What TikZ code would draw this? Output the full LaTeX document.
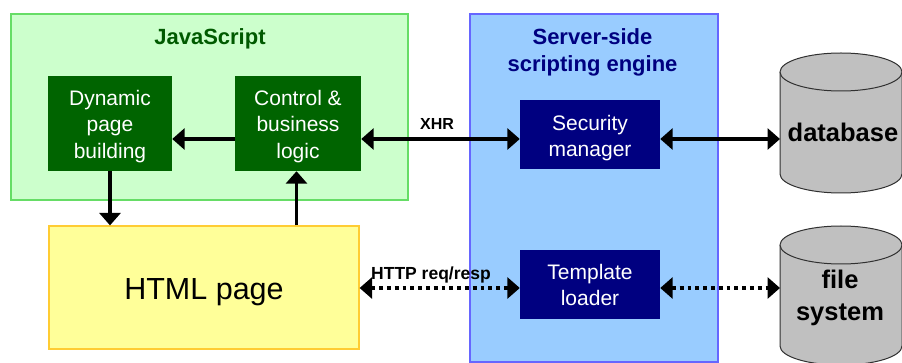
\documentclass[tikz,border=0pt]{standalone}
\usepackage{fontspec}
\setmainfont{Liberation Sans}
\usetikzlibrary{arrows.meta}
\definecolor{jsfill}{HTML}{CCFFCC}
\definecolor{jsline}{HTML}{66DD66}
\definecolor{dkgreen}{HTML}{006400}
\definecolor{htmlfill}{HTML}{FFFF99}
\definecolor{htmlline}{HTML}{FFCC33}
\definecolor{srvfill}{HTML}{99CCFF}
\definecolor{srvline}{HTML}{6666FF}
\definecolor{navyb}{HTML}{000080}
\definecolor{cylfill}{HTML}{C0C0C0}
\definecolor{cylline}{HTML}{303030}
\newcommand{\lowfirst}[1][20.5pt]{\rule{0pt}{#1}}
\tikzset{
  x=1pt,y=-1pt,
  panel/.style={rectangle,inner sep=0pt,line width=1.2pt},
  jsbox/.style={rectangle,inner sep=0pt,fill=dkgreen,text=white,align=center,
     minimum width=#1,minimum height=95pt,font=\fontsize{21}{26.5}\selectfont},
  srvbox/.style={rectangle,inner sep=0pt,fill=navyb,text=white,align=center,
     minimum width=140pt,minimum height=69pt,font=\fontsize{21}{26}\selectfont},
  cyl/.style={fill=cylfill,draw=cylline,line width=1pt},
  cyltext/.style={inner sep=0pt,align=center,font=\bfseries\fontsize{25.5}{32}\selectfont},
  linkarrow/.style={line width=3.8pt,-{Triangle[length=12.5pt,width=21pt]}},
  bothlink/.style={line width=3.8pt,{Triangle[length=12.5pt,width=21pt]}-{Triangle[length=12.5pt,width=21pt]}},
  dotlink/.style={bothlink,dash pattern=on 3.8pt off 4pt},
  linklabel/.style={inner sep=0pt,font=\bfseries\fontsize{#1}{#1}\selectfont}
}
\begin{document}
\begin{tikzpicture}
\useasboundingbox (0,0) rectangle (902,363);
\clip (0,0) rectangle (902,363);
\fill[white] (0,0) rectangle (902,363);
% panels
\node[panel,fill=jsfill,draw=jsline,minimum width=397pt,minimum height=186pt] (jspanel) at (209.5,107) {};
\node[panel,fill=srvfill,draw=srvline,minimum width=248pt,minimum height=348pt] (srvpanel) at (594,188) {};
\node[panel,fill=htmlfill,draw=htmlline,minimum width=310pt,minimum height=123pt,font=\fontsize{30.5}{36}\selectfont] (html) at (204,287.5) {\rule{0pt}{30pt}HTML page};
% titles
\node[inner sep=0pt,text=dkgreen!90!black,font=\bfseries\fontsize{22}{26}\selectfont] (jstitle) at (210,39) {JavaScript};
\node[inner sep=0pt,text=navyb,align=center,font=\bfseries\fontsize{22}{27}\selectfont] (srvtitle) at (592.5,52) {Server-side\\scripting engine};
% inner boxes
\node[jsbox=124pt] (dyn) at (110,123.5) {\lowfirst{}Dynamic\\page\\building};
\node[jsbox=126pt] (ctrl) at (298,123.5) {\lowfirst{}Control \&\\business\\logic};
\node[srvbox] (sec) at (590,134.5) {\lowfirst[22.5pt]Security\\manager};
\node[srvbox] (tmpl) at (590,284.5) {\lowfirst[16.5pt]Template\\loader};
% cylinders
\draw[cyl] (780,72) -- (780,174) arc[start angle=180,end angle=0,x radius=61,y radius=19]
   -- (902,72) arc[start angle=0,end angle=-180,x radius=61,y radius=19] -- cycle;
\draw[cyl] (780,72) arc[start angle=180,end angle=0,x radius=61,y radius=19];
\draw[cyl] (780,245) -- (780,346) arc[start angle=180,end angle=0,x radius=61,y radius=19]
   -- (902,245) arc[start angle=0,end angle=-180,x radius=61,y radius=19] -- cycle;
\draw[cyl] (780,245) arc[start angle=180,end angle=0,x radius=61,y radius=19];
\node[cyltext] (db) at (843,132) {database};
\node[cyltext] (fs) at (840,298) {file\\system};
% anchors of the connector rows
\coordinate (rowa) at (0,139);
\coordinate (rowb) at (0,288);
\coordinate (cola) at (296.5,0);
\coordinate (dbedge) at (780,139);
\coordinate (fsedge) at (780,288);
% connectors
\draw[linkarrow] (ctrl.west |- rowa) -- (dyn.east |- rowa);
\draw[linkarrow] (dyn.south) -- (dyn.south |- html.north);
\draw[linkarrow] (html.north -| cola) -- (ctrl.south -| cola);
\draw[bothlink] (ctrl.east |- rowa) -- (sec.west |- rowa);
\draw[bothlink] (sec.east |- rowa) -- (dbedge);
\draw[dotlink] (html.east |- rowb) -- (tmpl.west |- rowb);
\draw[dotlink] (tmpl.east |- rowb) -- (fsedge);
% labels
\node[linklabel=16] (xhr) at (437,124) {XHR};
\node[linklabel=17.5] (http) at (431,275) {HTTP req/resp};
\end{tikzpicture}
\end{document}
